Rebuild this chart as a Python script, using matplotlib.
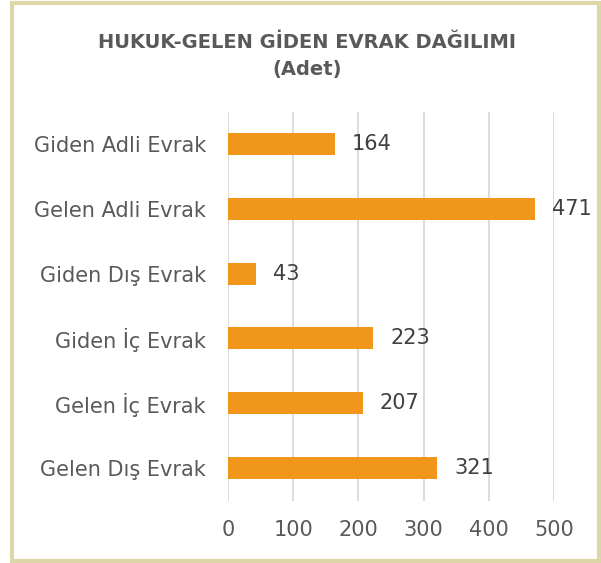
import matplotlib
matplotlib.use("Agg")
import matplotlib.pyplot as plt
from matplotlib.patches import Rectangle

categories = ["Giden Adli Evrak", "Gelen Adli Evrak", "Giden Dış Evrak",
              "Giden İç Evrak", "Gelen İç Evrak", "Gelen Dış Evrak"]
values = [164, 471, 43, 223, 207, 321]
xticks = [0, 100, 200, 300, 400, 500]
title = "HUKUK-GELEN GİDEN EVRAK DAĞILIMI\n(Adet)"

FONT = ["DejaVu Sans"]
W, H = 601, 563
fig = plt.figure(figsize=(W / 100, H / 100), dpi=100)
fig.patch.set_facecolor("white")

# frame
fig.add_artist(Rectangle((12 / W, 1 - 560.5 / H), (599 - 12) / W, (560.5 - 3) / H,
                         transform=fig.transFigure, fill=False,
                         edgecolor="#DDD6A8", linewidth=3))

ax = fig.add_axes([228 / W, 1 - 500.5 / H, (554 - 228) / W, (500.5 - 111.5) / H])
ypos = list(range(len(categories)))
ax.barh(ypos, values, height=0.34, color="#F0961A", zorder=3)
ax.set_ylim(len(categories) - 0.5, -0.5)
ax.set_xlim(0, 500)
ax.set_xticks(xticks)
ax.set_xticklabels([str(t) for t in xticks])
ax.set_yticks(ypos)
ax.set_yticklabels(categories)
ax.grid(axis="x", color="#D9D9D9", linewidth=1.3, zorder=0)
for s in ax.spines.values():
    s.set_visible(False)
ax.tick_params(axis="both", length=0, colors="#595959", labelsize=15)
ax.tick_params(axis="y", pad=16)
ax.tick_params(axis="x", pad=14)
for lab in ax.get_xticklabels() + ax.get_yticklabels():
    lab.set_fontfamily(FONT)
    lab.set_color("#595959")

for y, v in zip(ypos, values):
    ax.annotate(str(v), (v, y), xytext=(12, 0), textcoords="offset points",
                va="center", ha="left", fontsize=15, color="#404040",
                family=FONT)

fig.text(307 / W, 1 - 56 / H, title, ha="center", va="center",
         fontsize=14, fontweight="bold", color="#595959", family=FONT,
         linespacing=1.5)

fig.savefig("out.png", dpi=100)
